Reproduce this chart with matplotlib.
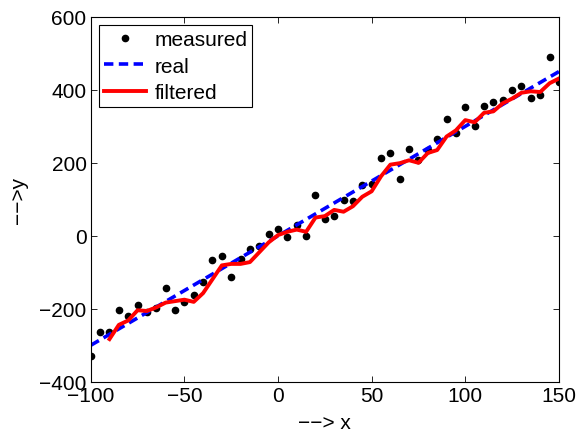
import matplotlib.pyplot as plt

# measured samples, every 5 units
x_meas = list(range(-100, 151, 5))
y_meas = [-330, -263, -263, -203, -220, -189, -209, -197, -142, -202,
          -182, -161, -127, -67, -54, -114, -63, -36, -28, 5,
          18, -4, 29, 0, 113, 45, 55, 97, 96, 138,
          141, 214, 227, 155, 239, 208, 235, 264, 319, 281,
          353, 300, 355, 367, 371, 399, 411, 377, 386, 490,
          422]

# real line endpoints
x_real = [-100, 150]
y_real = [-300, 450]

# filtered estimate
x_filt = list(range(-90, 151, 5))
y_filt = [-283, -244, -232, -204, -206, -196, -183, -179, -175, -181,
          -157, -119, -81, -77, -77, -72, -45, -18, 2, 11,
          17, 11, 50, 54, 71, 66, 81, 107, 122, 163,
          195, 199, 207, 200, 227, 235, 272, 289, 317, 311,
          337, 341, 363, 376, 392, 396, 394, 418, 431]

plt.switch_backend('Agg')
plt.rcParams['font.family'] = ['Liberation Sans', 'DejaVu Sans']
plt.rcParams['font.size'] = 15

fig = plt.figure(figsize=(5.78, 4.35), dpi=100)
ax = fig.add_axes([0.157, 0.12, 0.81, 0.839])

ax.plot(x_meas, y_meas, 'k.', markersize=9, label='measured')
ax.plot(x_real, y_real, '--', color='#0000ff', linewidth=2.6, dashes=(2.6, 1.5), label='real')
ax.plot(x_filt, y_filt, '-', color='#ff0000', linewidth=2.8, label='filtered')

ax.set_xlim(-100, 150)
ax.set_ylim(-400, 600)
ax.set_xticks([-100, -50, 0, 50, 100, 150])
ax.set_yticks([-400, -200, 0, 200, 400, 600])
ax.tick_params(direction='in', top=True, right=True, length=4, width=0.6, pad=3)
for s in ax.spines.values():
    s.set_linewidth(0.8)

ax.set_xlabel('\u2212\u2212> x', labelpad=6)
ax.set_ylabel('\u2212\u2212>y', labelpad=8)

leg = ax.legend(loc='upper left', fancybox=False, framealpha=1, edgecolor='black',
                borderaxespad=0.4, handlelength=2.0, handletextpad=0.4,
                labelspacing=0.35, borderpad=0.25, numpoints=1)
leg.get_frame().set_linewidth(0.8)

plt.savefig('out.png', dpi=100)
plt.close()
